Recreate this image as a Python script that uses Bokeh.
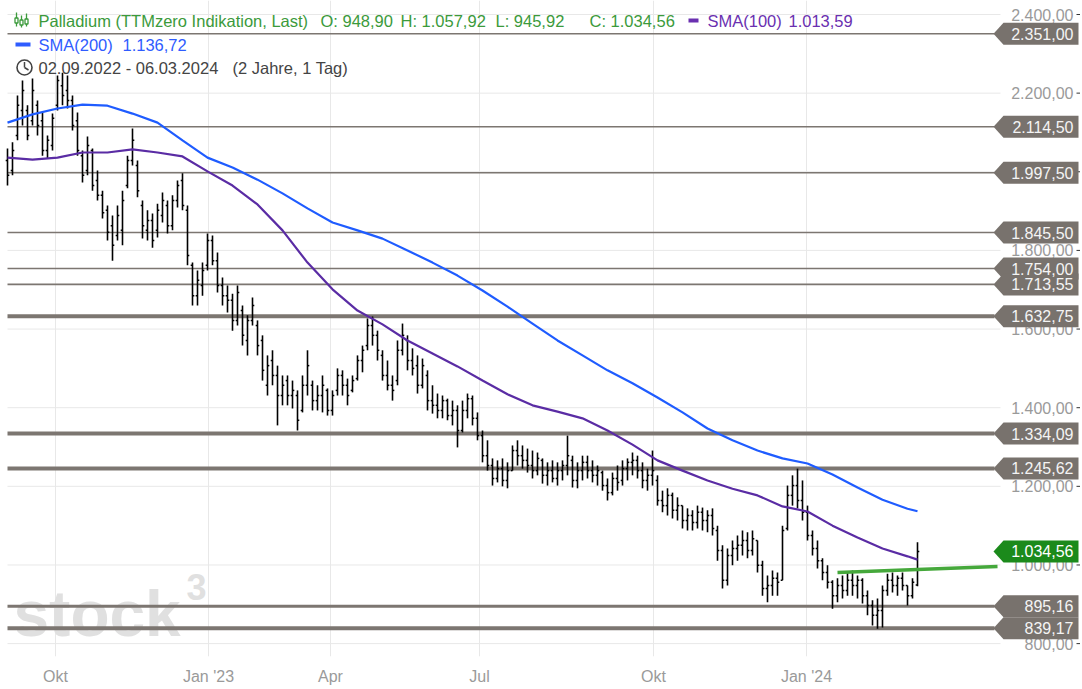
from bokeh.plotting import figure
from bokeh.models import Range1d, FixedTicker
from bokeh.core.properties import value
from bokeh.embed import file_html
from bokeh.resources import INLINE

FONT = "Liberation Sans"

# ---------------- data ----------------
bar_open = [2029, 2003, 2092, 2156, 2156, 2130, 2169, 2130, 2054, 2067,
            2169, 2219, 2207, 2181, 2130, 2041, 2003, 2054, 1978, 1940,
            1902, 1863, 1838, 1851, 1965, 2029, 2016, 1914, 1851, 1876,
            1851, 1889, 1914, 1863, 1927, 1978, 1902, 1762, 1685, 1711,
            1762, 1825, 1774, 1711, 1685, 1673, 1622, 1647, 1571, 1622,
            1609, 1571, 1457, 1520, 1482, 1431, 1469, 1431, 1431, 1393,
            1457, 1457, 1418, 1431, 1444, 1393, 1444, 1482, 1457, 1444,
            1474, 1520, 1558, 1609, 1584, 1533, 1482, 1457, 1469, 1546,
            1571, 1520, 1507, 1457, 1482, 1418, 1406, 1393, 1418, 1380,
            1393, 1342, 1393, 1423, 1373, 1329, 1278, 1253, 1220, 1245,
            1215, 1240, 1291, 1278, 1266, 1253, 1240, 1266, 1228, 1240,
            1220, 1240, 1253, 1266, 1215, 1240, 1261, 1240, 1228, 1235,
            1202, 1184, 1220, 1215, 1245, 1261, 1266, 1240, 1215, 1228,
            1215, 1164, 1151, 1177, 1139, 1151, 1113, 1126, 1108, 1134,
            1113, 1126, 1088, 1037, 961, 1024, 1042, 1050, 1062, 1037,
            1062, 999, 940, 948, 966, 961, 1093, 1177, 1202, 1164,
            1134, 1075, 1042, 1011, 981, 956, 922, 948, 935, 961,
            948, 961, 922, 897, 872, 884, 935, 961, 948, 966,
            948, 922, 948.90]
bar_high = [2059, 2075, 2194, 2232, 2169, 2237, 2181, 2151, 2092, 2148,
            2245, 2252, 2245, 2194, 2151, 2054, 2090, 2059, 2003, 1952,
            1914, 1889, 1914, 1952, 2041, 2110, 2029, 1927, 1902, 1894,
            1919, 1947, 1927, 1940, 1978, 1996, 1914, 1769, 1749, 1769,
            1843, 1838, 1795, 1731, 1711, 1690, 1711, 1660, 1635, 1680,
            1622, 1584, 1533, 1546, 1507, 1482, 1482, 1469, 1444, 1482,
            1546, 1469, 1457, 1482, 1449, 1444, 1500, 1495, 1474, 1482,
            1533, 1558, 1627, 1632, 1596, 1546, 1520, 1482, 1571, 1614,
            1584, 1551, 1533, 1525, 1495, 1457, 1436, 1431, 1423, 1418,
            1406, 1418, 1436, 1431, 1388, 1342, 1317, 1271, 1266, 1271,
            1261, 1304, 1317, 1304, 1296, 1291, 1286, 1271, 1261, 1266,
            1261, 1266, 1329, 1278, 1261, 1278, 1278, 1266, 1253, 1240,
            1220, 1235, 1253, 1266, 1271, 1286, 1278, 1261, 1245, 1291,
            1228, 1189, 1195, 1184, 1172, 1151, 1144, 1139, 1151, 1146,
            1139, 1144, 1100, 1050, 1042, 1062, 1075, 1088, 1083, 1088,
            1062, 1011, 973, 986, 981, 1100, 1202, 1228, 1245, 1215,
            1151, 1088, 1062, 1017, 999, 961, 966, 973, 981, 986,
            973, 966, 935, 910, 915, 948, 978, 981, 973, 981,
            948, 966, 1057.92]
bar_low = [1965, 1991, 2080, 2118, 2080, 2118, 2092, 2041, 2034, 2054,
           2156, 2169, 2161, 2105, 2041, 1973, 1991, 1952, 1927, 1881,
           1825, 1774, 1825, 1813, 1958, 2016, 1935, 1830, 1825, 1807,
           1833, 1871, 1843, 1851, 1909, 1902, 1762, 1660, 1660, 1685,
           1749, 1762, 1693, 1660, 1642, 1596, 1609, 1558, 1533, 1609,
           1533, 1469, 1431, 1457, 1355, 1406, 1406, 1398, 1342, 1388,
           1431, 1393, 1393, 1388, 1380, 1380, 1431, 1431, 1406, 1439,
           1469, 1490, 1546, 1558, 1520, 1469, 1444, 1418, 1457, 1533,
           1495, 1482, 1436, 1449, 1393, 1385, 1373, 1373, 1368, 1355,
           1299, 1337, 1373, 1355, 1317, 1261, 1240, 1202, 1210, 1200,
           1195, 1240, 1253, 1245, 1235, 1220, 1228, 1207, 1202, 1210,
           1202, 1215, 1228, 1197, 1195, 1215, 1220, 1210, 1202, 1189,
           1164, 1177, 1189, 1202, 1215, 1228, 1220, 1195, 1189, 1202,
           1151, 1134, 1126, 1118, 1113, 1093, 1088, 1088, 1093, 1088,
           1083, 1075, 1011, 940, 948, 999, 1011, 1024, 1017, 1024,
           981, 922, 905, 922, 922, 961, 1088, 1151, 1144, 1113,
           1062, 1024, 991, 961, 940, 889, 905, 915, 922, 922,
           915, 902, 872, 846, 838, 841, 922, 930, 922, 935,
           897, 915, 945.92]
bar_close = [1991, 2054, 2169, 2207, 2092, 2207, 2118, 2054, 2080, 2136,
             2232, 2194, 2181, 2118, 2054, 1991, 2067, 1965, 1940, 1896,
             1846, 1813, 1889, 1927, 2029, 2080, 1952, 1863, 1876, 1825,
             1902, 1927, 1863, 1927, 1965, 1914, 1787, 1685, 1724, 1749,
             1825, 1774, 1711, 1685, 1673, 1622, 1693, 1584, 1622, 1660,
             1558, 1495, 1507, 1482, 1431, 1457, 1431, 1444, 1368, 1457,
             1507, 1418, 1431, 1457, 1393, 1431, 1482, 1457, 1431, 1469,
             1520, 1546, 1609, 1584, 1546, 1482, 1457, 1444, 1546, 1584,
             1520, 1500, 1457, 1507, 1418, 1406, 1393, 1418, 1380, 1393,
             1342, 1393, 1423, 1373, 1329, 1278, 1253, 1220, 1245, 1215,
             1240, 1291, 1278, 1266, 1253, 1240, 1271, 1228, 1240, 1220,
             1240, 1253, 1278, 1215, 1240, 1261, 1240, 1228, 1240, 1202,
             1184, 1220, 1210, 1245, 1261, 1266, 1240, 1215, 1228, 1240,
             1164, 1151, 1177, 1139, 1151, 1113, 1126, 1108, 1134, 1113,
             1126, 1093, 1037, 961, 1024, 1042, 1050, 1062, 1037, 1067,
             999, 940, 948, 966, 956, 1088, 1177, 1202, 1164, 1134,
             1075, 1042, 1011, 981, 956, 922, 948, 935, 961, 948,
             961, 922, 897, 872, 884, 935, 961, 948, 966, 948,
             922, 956, 1034.56]

month_tick_idx = [9.6, 40.2, 64.6, 94.4, 129.2, 159.8]
month_labels = ["Okt", "Jan '23", "Apr", "Jul", "Okt", "Jan '24"]

sma_idx = list(range(0, 181, 5)) + [182]
sma100 = [2036, 2031, 2036, 2049, 2049, 2057, 2049, 2039, 2001, 1965,
          1917, 1851, 1769, 1701, 1647, 1612, 1571, 1538, 1505, 1469,
          1434, 1406, 1390, 1373, 1342, 1306, 1266, 1240, 1215, 1194,
          1177, 1149, 1136, 1100, 1070, 1042, 1022, 1013.59]
sma200 = [2125, 2146, 2161, 2171, 2168, 2148, 2125, 2080, 2036, 2011,
          1980, 1945, 1907, 1871, 1851, 1830, 1800, 1769, 1736, 1698,
          1657, 1614, 1571, 1533, 1495, 1462, 1426, 1388, 1347, 1317,
          1291, 1271, 1258, 1230, 1197, 1166, 1143, 1136.72]

level_values = [2351.00, 2114.50, 1997.50, 1845.50, 1754.00, 1713.55,
                1632.75, 1334.09, 1245.62, 895.16, 839.17]
level_labels = ["2.351,00", "2.114,50", "1.997,50", "1.845,50", "1.754,00", "1.713,55",
                "1.632,75", "1.334,09", "1.245,62", "895,16", "839,17"]
level_kind = ["thin", "thin", "thin", "thin", "thin", "thin",
              "thick", "thick", "thick", "medium", "thick"]

y_ticks = [2400, 2200, 2000, 1800, 1600, 1400, 1200, 1000, 800]
y_tick_labels = ["2.400,00", "2.200,00", "2.000,00", "1.800,00", "1.600,00",
                 "1.400,00", "1.200,00", "1.000,00", "800,00"]

trend_idx = [166, 198]
trend_val = [981, 996]
last_close = 1034.56
last_close_label = "1.034,56"

# ---------------- pixel helpers (layout only) ----------------
X0, DX = 7.0, 5.0          # pixel of bar 0, pixels per bar
PY0, PPU = 14.0, 0.3932    # pixel of 2400, pixels per price unit
FRAME_H = 656


def xd(px):
    return (px - X0) / DX


def yd(py):
    return 2400 - (py - PY0) / PPU


def hpx(n):
    return n / PPU


p = figure(frame_width=1080, frame_height=FRAME_H,
           x_range=Range1d(xd(0), xd(1080)), y_range=Range1d(yd(FRAME_H), yd(0)),
           output_backend="svg", toolbar_location=None, y_axis_location=None,
           min_border=0)
p.outline_line_color = None
p.background_fill_color = "white"
p.border_fill_color = "white"

p.xaxis.ticker = FixedTicker(ticks=month_tick_idx)
p.xaxis.major_label_overrides = {t: l for t, l in zip(month_tick_idx, month_labels)}
p.xaxis.axis_line_color = None
p.xaxis.major_tick_line_color = None
p.xaxis.minor_tick_line_color = None
p.xaxis.major_label_text_font = FONT
p.xaxis.major_label_text_font_size = "16px"
p.xaxis.major_label_text_color = "#9a9a9a"
p.xaxis.major_label_standoff = 5
p.xgrid.ticker = FixedTicker(ticks=month_tick_idx)
p.xgrid.grid_line_color = "#e8e8e8"
p.ygrid.visible = False

# horizontal grid
p.segment(x0=xd(7), x1=xd(1000), y0=y_ticks, y1=y_ticks, line_color="#e8e8e8", line_width=1)

# watermark
p.text(x=[xd(13)], y=[yd(613)], text=["stock"], text_font=value(FONT),
       text_font_size="64px", text_font_style="bold", text_color="#e0e0e0",
       text_baseline="alphabetic", text_align="left")
p.text(x=[xd(186)], y=[yd(586)], text=["3"], text_font=value(FONT),
       text_font_size="36px", text_font_style="bold", text_color="#e0e0e0",
       text_baseline="alphabetic", text_align="left")

# support / resistance lines
width_map = {"thin": 1.6, "medium": 3.0, "thick": 4.0}
p.segment(x0=xd(7), x1=xd(994), y0=level_values, y1=level_values,
          line_color="#7c7671", line_width=[width_map[k] for k in level_kind])

# bars
idx = list(range(len(bar_close)))
tick = 0.36
p.segment(x0=idx, y0=bar_low, x1=idx, y1=bar_high, line_color="black", line_width=1.6)
p.segment(x0=[i - tick for i in idx], y0=bar_open, x1=idx, y1=bar_open,
          line_color="black", line_width=1.5)
p.segment(x0=idx, y0=bar_close, x1=[i + tick for i in idx], y1=bar_close,
          line_color="black", line_width=1.5)

# moving averages
p.line(sma_idx, sma200, line_color="#1f5cff", line_width=2.2)
p.line(sma_idx, sma100, line_color="#5a2ca4", line_width=2.2)

# trend line
p.line(trend_idx, trend_val, line_color="#45a83b", line_width=3.5)

# right axis labels + ticks
p.text(x=[xd(1073)] * len(y_ticks), y=y_ticks, text=y_tick_labels,
       text_font=value(FONT), text_font_size="16px", text_color="#9a9a9a",
       text_align="right", text_baseline="middle")
p.segment(x0=xd(1076), x1=xd(1080), y0=y_ticks, y1=y_ticks, line_color="#333333", line_width=1)


def box(v):
    h = hpx(11)
    xs = [xd(993), xd(1003), xd(1078), xd(1078), xd(1003)]
    ys = [v, v + h, v + h, v - h, v - h]
    return xs, ys


bx = [box(v) for v in level_values]
p.patches(xs=[b[0] for b in bx], ys=[b[1] for b in bx], fill_color="#78726d", line_color=None)
p.text(x=[xd(1073)] * len(level_values), y=level_values, text=level_labels,
       text_font=value(FONT), text_font_size="16px", text_color="#f4f4f4",
       text_align="right", text_baseline="middle")

gx, gy = box(last_close)
p.patch(x=gx, y=gy, fill_color="#1b8a1b", line_color=None)
p.text(x=[xd(1073)], y=[last_close], text=[last_close_label],
       text_font=value(FONT), text_font_size="16px", text_color="#ffffff",
       text_align="right", text_baseline="middle")

# ---------------- header ----------------
green = "#3b9a3b"
purple = "#6a30b0"
blue = "#2f5cff"
HF = "16.5px"
# OHLC icon
p.segment(x0=[xd(16), xd(21), xd(26)], x1=[xd(16), xd(21), xd(26)],
          y0=[yd(12), yd(15), yd(13)], y1=[yd(26), yd(27), yd(26)],
          line_color=green, line_width=1.3)
p.rect(x=[xd(16), xd(21), xd(26)], y=[yd(20), yd(22), yd(21)], width=3.0 / DX,
       height=hpx(5), fill_color="white", line_color=green, line_width=1.3)

hx = [38, 320, 400, 495, 589]
htxt = ["Palladium (TTMzero Indikation, Last)", "O: 948,90", "H: 1.057,92",
        "L: 945,92", "C: 1.034,56"]
p.text(x=[xd(v) for v in hx], y=[yd(20)] * len(hx), text=htxt, text_font=value(FONT),
       text_font_size=HF, text_color=green, text_baseline="middle", text_align="left")
p.segment(x0=[xd(688)], x1=[xd(698)], y0=[yd(20)], y1=[yd(20)], line_color=purple, line_width=4)
p.text(x=[xd(707), xd(788)], y=[yd(20)] * 2, text=["SMA(100)", "1.013,59"],
       text_font=value(FONT), text_font_size=HF, text_color=purple,
       text_baseline="middle", text_align="left")

p.segment(x0=[xd(15)], x1=[xd(30)], y0=[yd(44)], y1=[yd(44)], line_color=blue, line_width=4)
p.text(x=[xd(38), xd(122)], y=[yd(44)] * 2, text=["SMA(200)", "1.136,72"],
       text_font=value(FONT), text_font_size=HF, text_color=blue,
       text_baseline="middle", text_align="left")

p.scatter(x=[xd(24)], y=[yd(67)], size=15, marker="circle", fill_color=None,
          line_color="#444444", line_width=1.6)
p.segment(x0=[xd(24), xd(24)], y0=[yd(67), yd(67)], x1=[xd(24), xd(28)], y1=[yd(61.5), yd(69.5)],
          line_color="#444444", line_width=1.5)
p.text(x=[xd(38), xd(232)], y=[yd(67)] * 2,
       text=["02.09.2022 - 06.03.2024", "(2 Jahre, 1 Tag)"],
       text_font=value(FONT), text_font_size=HF, text_color="#444444",
       text_baseline="middle", text_align="left")

open("out.html", "w").write(file_html(p, INLINE))
